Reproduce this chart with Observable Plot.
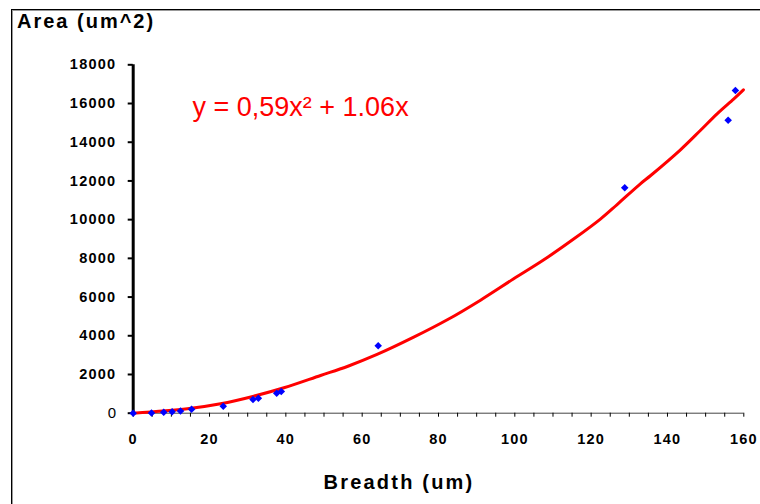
<!DOCTYPE html>
<html>
<head>
<meta charset="utf-8">
<script src="https://cdn.jsdelivr.net/npm/d3@7"></script>
<script src="https://cdn.jsdelivr.net/npm/@observablehq/plot@0.6"></script>
<style>
  html, body { margin: 0; padding: 0; background: #fff; overflow: hidden; }
  #wrap { position: relative; width: 760px; height: 504px; overflow: hidden; font-family: "Liberation Sans", Arial, sans-serif; }
  #frame { position: absolute; left: 11px; top: 9px; width: 820px; height: 620px; border: 1px solid #000; box-shadow: inset 1px 1px 0 #999; pointer-events: none; }
  #ytitle { position: absolute; left: 17px; top: 10px; font-size: 20px; font-weight: bold; letter-spacing: 2px; color: #000; white-space: nowrap; }
  #xtitle { position: absolute; left: 0; width: 798px; text-align: center; top: 471px; font-size: 20px; font-weight: bold; letter-spacing: 2.2px; color: #000; white-space: nowrap; }
  #chart { position: absolute; left: 0; top: 0; }
</style>
</head>
<body>
<div id="wrap">
  <div id="chart"></div>
  <div id="frame"></div>
  <div id="ytitle">Area (um^2)</div>
  <div id="xtitle">Breadth (um)</div>
</div>
<script>
// Measured samples (blue diamonds)
const breadth = [0, 4.8, 8.0, 10.2, 12.4, 15.3, 23.6, 31.4, 32.8, 37.6, 38.8, 64.2, 128.8, 155.9, 157.8];
const area    = [0, 10, 50, 80, 110, 200, 362, 708, 775, 1033, 1121, 3482, 11645, 15137, 16672];

// Trendline
const trendX = [0, 14.2, 22.9, 31.6, 39.5, 49.1, 56.1, 63.9, 73.5, 82.3, 91.0, 99.7, 107.6, 115.5, 122.5, 126.8, 132.9, 135.6, 143.4, 148.6, 153.0, 157.4, 159.9];
const trendY = [0, 227, 486, 878, 1312, 1948, 2413, 3033, 3926, 4825, 5840, 6944, 7925, 9010, 10043, 10782, 11852, 12281, 13608, 14605, 15468, 16243, 16708];

const equation = "y = 0,59x² + 1.06x";

// Ticks
const xTickValues = [0, 5, 10, 15, 20, 25, 30, 35, 40, 45, 50, 55, 60, 65, 70, 75, 80, 85, 90, 95, 100, 105, 110, 115, 120, 125, 130, 135, 140, 145, 150, 155, 160];
const xTickLabels = [0, 20, 40, 60, 80, 100, 120, 140, 160];
const yTickValues = [2000, 4000, 6000, 8000, 10000, 12000, 14000, 16000, 18000];
const yZeroTick = [0];

const points = breadth.map((b, i) => ({b, a: area[i]}));
const trend = trendX.map((x, i) => ({x, y: trendY[i]}));

const chart = Plot.plot({
  width: 760,
  height: 504,
  marginLeft: 132.7,
  marginRight: 16.7,
  marginTop: 64.3,
  marginBottom: 91.3,
  style: {fontFamily: "'Liberation Sans', Arial, sans-serif", background: "transparent", color: "#000"},
  x: {domain: [0, 160]},
  y: {domain: [0, 18000]},
  marks: [
    Plot.ruleY([0], {stroke: "#444", strokeWidth: 1}),
    Plot.axisX({
      ticks: xTickValues,
      tickSize: 4,
      tickPadding: 17,
      tickFormat: d => xTickLabels.includes(d) ? String(d) : "",
      fontSize: 14.5,
      fontWeight: "bold",
      stroke: "#000",
      label: null
    }),
    Plot.axisY({
      ticks: yTickValues,
      tickSize: 5,
      tickPadding: 12,
      tickFormat: d => String(d),
      fontSize: 14.5,
      fontWeight: "bold",
      strokeWidth: 2,
      label: null
    }),
    Plot.axisY({
      ticks: yZeroTick,
      tickSize: 5,
      tickPadding: 11,
      tickFormat: d => String(d),
      fontSize: 15,
      fontWeight: "normal",
      strokeWidth: 2,
      label: null
    }),
    Plot.ruleX([0], {stroke: "#000", strokeWidth: 3}),
    Plot.line(trend, {x: "x", y: "y", stroke: "#ff0000", strokeWidth: 3, curve: "catmull-rom"}),
    Plot.dot(points, {x: "b", y: "a", symbol: "diamond2", r: 3.4, fill: "#0000ff", stroke: "none"}),
    Plot.text([equation], {
      frameAnchor: "top-left",
      textAnchor: "start",
      lineAnchor: "middle",
      dx: 59.3,
      dy: 43,
      fill: "#ff0000",
      fontSize: 27,
      fontWeight: "normal"
    })
  ]
});

document.getElementById("chart").appendChild(chart);

// letter spacing on bold tick labels to match the wide rendering of the reference
d3.select(chart).selectAll('g[aria-label="x-axis tick label"] text, g[aria-label="y-axis tick label"] text')
  .style("letter-spacing", "1.2px");
</script>
</body>
</html>
